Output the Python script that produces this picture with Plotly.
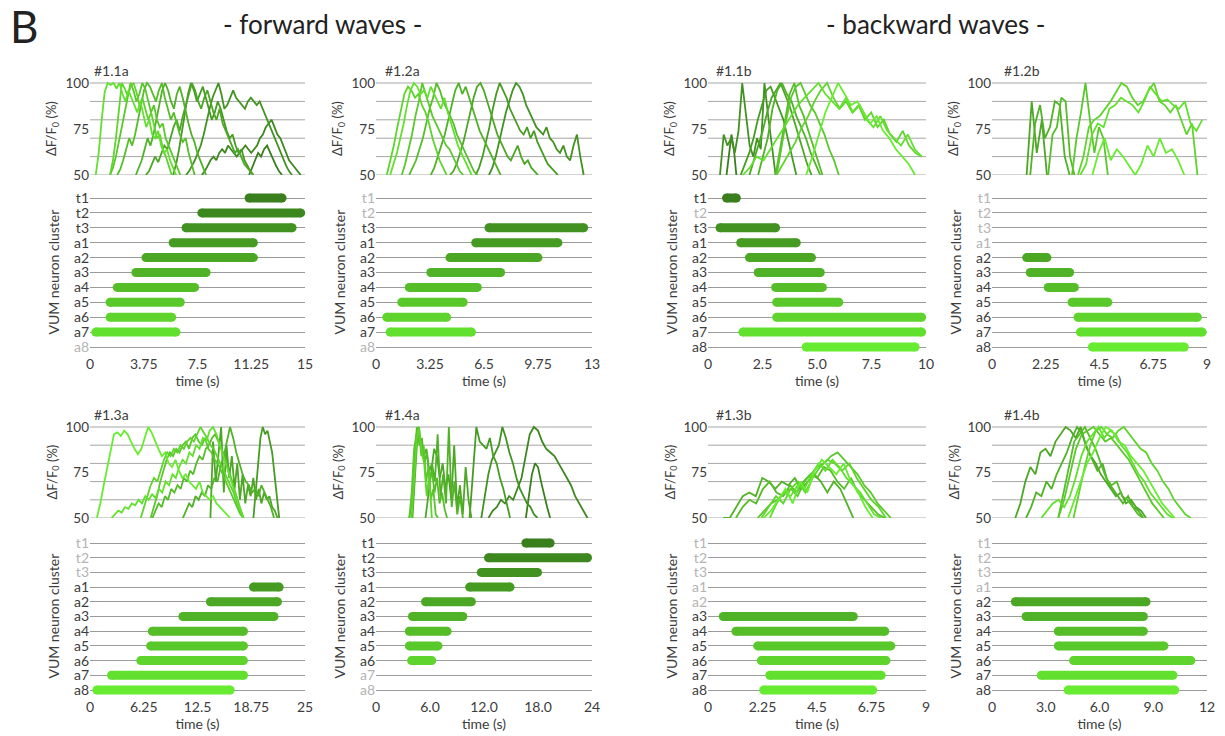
import numpy as np
import plotly.graph_objects as go

W, H = 1225, 736
FONT = "Lato"
TXT = "#3c3c3c"
GRID = "#a6a6a6"

ROWS = ["t1", "t2", "t3", "a1", "a2", "a3", "a4", "a5", "a6", "a7", "a8"]
ROW_COLORS = ["#3a7f1e", "#3d871f", "#419221", "#469c22", "#4ba724", "#50b226",
              "#55bd28", "#59c82a", "#5ed42c", "#62e02e", "#68ec32"]
TOP_GRID_VALUES = [50, 60, 70, 80, 90, 100]
TOP_TICKS = [50, 75, 100]

# ---------------- #1.1a ----------------
P11A_NAME = "#1.1a"
P11A_XMAX = 15
P11A_TICKS = [0, 3.75, 7.5, 11.25, 15]
P11A_TICKTEXT = ["0", "3.75", "7.5", "11.25", "15"]
P11A_START = [11.1, 7.8, 6.7, 5.8, 3.9, 3.2, 1.9, 1.4, 1.4, 0.4, None]
P11A_END = [13.4, 14.7, 14.1, 11.4, 11.4, 8.1, 7.3, 6.3, 5.7, 6.0, None]
P11A_TRACES = {
    "t1": [50, 54, 58, 62, 60, 64, 66, 62, 58, 55, 52, 50],
    "t2": [50, 52, 55, 58, 60, 58, 62, 64, 62, 66, 64, 62, 60, 62, 64, 66, 64, 62, 64, 66, 70, 72, 76, 78, 80, 76, 72, 70, 66, 62, 58, 56, 54, 52, 50],
    "t3": [50, 52, 55, 58, 62, 66, 72, 80, 86, 92, 96, 100, 94, 86, 88, 92, 96, 92, 90, 88, 86, 90, 92, 90, 88, 90, 86, 82, 78, 74, 70, 66, 62, 58, 55, 52, 50],
    "a1": [50, 56, 64, 74, 84, 94, 100, 96, 90, 94, 98, 92, 86, 80, 84, 90, 86, 80, 74, 70, 72, 66, 62, 64, 58, 55, 52, 50],
    "a2": [50, 52, 56, 60, 57, 62, 66, 64, 70, 76, 80, 74, 82, 88, 94, 100, 96, 90, 86, 92, 96, 90, 84, 80, 86, 78, 74, 70, 66, 62, 64, 60, 56, 54, 52, 50],
    "a3": [50, 54, 58, 64, 70, 66, 72, 80, 88, 96, 100, 96, 90, 86, 94, 98, 92, 84, 78, 72, 68, 62, 58, 54, 50],
    "a4": [50, 53, 58, 64, 70, 66, 72, 80, 88, 96, 100, 98, 94, 90, 96, 100, 92, 86, 80, 84, 78, 72, 68, 70, 62, 56, 50],
    "a5": [50, 54, 60, 68, 74, 82, 92, 100, 96, 90, 94, 100, 97, 90, 84, 88, 80, 76, 78, 70, 66, 62, 58, 54, 50],
    "a6": [50, 58, 70, 86, 100, 97, 93, 98, 100, 95, 88, 92, 86, 80, 84, 76, 70, 72, 64, 60, 55, 50],
    "a7": [50, 62, 80, 95, 100, 99, 100, 97, 100, 94, 90, 96, 92, 88, 84, 90, 82, 76, 80, 72, 70, 74, 66, 62, 64, 58, 54, 50],
}

# ---------------- #1.2a ----------------
P12A_NAME = "#1.2a"
P12A_XMAX = 13
P12A_TICKS = [0, 3.25, 6.5, 9.75, 13]
P12A_TICKTEXT = ["0", "3.25", "6.5", "9.75", "13"]
P12A_START = [None, None, 6.8, 6.0, 4.45, 3.3, 2.0, 1.55, 0.65, 0.85, None]
P12A_END = [None, None, 12.5, 10.95, 9.75, 7.5, 6.1, 5.25, 4.25, 5.75, None]
P12A_TRACES = {
    "t3": [50, 54, 60, 68, 76, 84, 90, 96, 100, 98, 94, 88, 84, 80, 76, 74, 72, 76, 70, 68, 64, 62, 66, 60, 58, 66, 72, 60, 50],
    "a1": [50, 54, 60, 68, 76, 86, 94, 100, 96, 92, 86, 82, 78, 74, 72, 76, 70, 74, 68, 64, 60, 56, 54, 52, 50],
    "a2": [50, 52, 56, 62, 68, 76, 84, 92, 98, 100, 96, 90, 84, 78, 72, 68, 64, 60, 58, 62, 66, 60, 56, 58, 54, 52, 50],
    "a3": [50, 54, 60, 66, 72, 80, 88, 96, 100, 94, 98, 92, 86, 80, 74, 70, 66, 62, 58, 54, 50],
    "a4": [50, 54, 58, 64, 70, 78, 86, 92, 100, 96, 90, 86, 82, 78, 72, 68, 64, 60, 56, 52, 50],
    "a5": [50, 56, 64, 72, 82, 90, 100, 94, 88, 82, 78, 74, 70, 66, 64, 60, 56, 52, 50],
    "a6": [50, 58, 66, 76, 86, 94, 98, 96, 92, 94, 88, 84, 78, 70, 64, 58, 54, 50],
    "a7": [50, 56, 62, 70, 78, 88, 96, 100, 98, 94, 96, 92, 98, 94, 90, 86, 92, 84, 78, 72, 66, 62, 58, 54, 50],
}

# ---------------- #1.1b ----------------
P11B_NAME = "#1.1b"
P11B_XMAX = 10
P11B_TICKS = [0, 2.5, 5, 7.5, 10]
P11B_TICKTEXT = ["0", "2.5", "5.0", "7.5", "10"]
P11B_START = [0.85, None, 0.55, 1.5, 1.9, 2.3, 3.1, 3.15, 3.15, 1.6, 4.5]
P11B_END = [1.3, None, 3.1, 4.05, 4.75, 5.15, 5.25, 6.0, 9.8, 9.8, 9.5]
P11B_TRACES = {
    "t1": [50, 60, 72, 64, 50],
    "t3": [50, 72, 66, 70, 62, 74, 100, 84, 66, 60, 70, 64, 100, 82, 66, 50],
    "a1": [50, 56, 62, 70, 80, 88, 96, 98, 92, 86, 80, 70, 60, 50],
    "a2": [50, 58, 66, 74, 84, 92, 96, 100, 94, 88, 80, 72, 64, 56, 50],
    "a3": [50, 60, 70, 86, 96, 100, 94, 90, 82, 76, 70, 62, 56, 50],
    "a4": [50, 64, 80, 94, 100, 88, 82, 74, 66, 58, 50],
    "a5": [50, 66, 80, 92, 98, 100, 94, 88, 84, 78, 72, 64, 58, 50],
    "a6": [50, 56, 62, 68, 76, 82, 90, 96, 100, 92, 86, 90, 84, 88, 80, 84, 76, 80, 72, 68, 74, 66, 62, 60],
    "a7": [50, 54, 60, 58, 64, 70, 76, 82, 88, 92, 96, 100, 94, 90, 86, 92, 84, 88, 80, 76, 82, 74, 70, 66, 72, 64, 60],
    "a8": [50, 60, 72, 84, 92, 100, 94, 88, 90, 84, 78, 82, 74, 70, 64, 60, 56, 50],
}

# ---------------- #1.2b ----------------
P12B_NAME = "#1.2b"
P12B_XMAX = 9
P12B_TICKS = [0, 2.25, 4.5, 6.75, 9]
P12B_TICKTEXT = ["0", "2.25", "4.5", "6.75", "9"]
P12B_START = [None, None, None, None, 1.45, 1.6, 2.35, 3.35, 3.6, 3.7, 4.2]
P12B_END = [None, None, None, None, 2.3, 3.25, 3.45, 4.85, 8.6, 8.8, 8.05]
P12B_TRACES = {
    "a2": [50, 90, 62, 80, 50],
    "a3": [50, 78, 88, 70, 76, 90, 88, 60, 50],
    "a4": [50, 72, 76, 92, 90, 60, 50],
    "a5": [50, 70, 84, 100, 80, 62, 76, 70, 50],
    "a6": [50, 60, 76, 80, 82, 86, 90, 95, 100, 98, 92, 88, 90, 96, 100, 90, 88, 84, 88, 80, 72, 78, 50],
    "a7": [50, 56, 72, 78, 76, 86, 88, 92, 90, 88, 84, 90, 98, 94, 90, 91, 88, 86, 90, 78, 74, 80],
    "a8": [50, 62, 70, 58, 64, 60, 55, 50, 56, 66, 60, 70, 62, 64, 58, 50],
}

# ---------------- #1.3a ----------------
P13A_NAME = "#1.3a"
P13A_XMAX = 25
P13A_TICKS = [0, 6.25, 12.5, 18.75, 25]
P13A_TICKTEXT = ["0", "6.25", "12.5", "18.75", "25"]
P13A_START = [None, None, None, 19.0, 14.0, 10.8, 7.25, 7.05, 5.9, 2.5, 0.8]
P13A_END = [None, None, None, 22.0, 21.8, 21.4, 17.85, 17.85, 17.85, 17.85, 16.3]
P13A_TRACES = {
    "a1": [50, 64, 80, 94, 100, 96, 98, 92, 86, 74, 62, 50],
    "a2": [50, 92, 70, 86, 100, 64, 90, 72, 84, 66, 80, 60, 74, 58, 68, 62, 72, 60, 66, 58, 64, 60, 62, 56, 54, 50],
    "a3": [50, 54, 58, 56, 62, 60, 64, 62, 68, 66, 72, 70, 78, 84, 92, 100, 94, 86, 80, 74, 70, 68, 64, 66, 62, 68, 64, 60, 56, 50],
    "a4": [50, 54, 58, 56, 62, 60, 66, 64, 68, 66, 72, 70, 76, 74, 80, 84, 82, 88, 90, 94, 96, 92, 88, 84, 78, 72, 66, 60, 55, 50],
    "a5": [50, 56, 62, 70, 76, 82, 86, 84, 88, 86, 90, 92, 88, 94, 96, 92, 90, 94, 88, 86, 82, 80, 76, 72, 68, 64, 60, 56, 52, 50],
    "a6": [50, 56, 62, 68, 72, 70, 76, 82, 86, 84, 88, 86, 90, 88, 92, 94, 92, 96, 100, 97, 94, 90, 88, 84, 80, 76, 72, 68, 64, 58, 54, 50],
    "a7": [50, 52, 54, 53, 56, 55, 58, 57, 60, 58, 62, 60, 63, 61, 66, 64, 70, 68, 74, 72, 78, 82, 80, 86, 84, 90, 88, 94, 92, 98, 100, 96, 90, 84, 78, 72, 66, 60, 55, 50],
    "a8": [50, 58, 68, 78, 88, 96, 97, 95, 98, 96, 92, 88, 85, 88, 94, 100, 97, 92, 88, 84, 86, 80, 78, 82, 76, 72, 74, 70, 68, 66, 70, 64, 62, 60, 62, 58, 56, 54, 52, 50],
}

# ---------------- #1.4a ----------------
P14A_NAME = "#1.4a"
P14A_XMAX = 24
P14A_TICKS = [0, 6, 12, 18, 24]
P14A_TICKTEXT = ["0", "6.0", "12.0", "18.0", "24"]
P14A_START = [16.65, 12.5, 11.7, 10.4, 5.5, 4.05, 3.7, 3.7, 3.95, None, None]
P14A_END = [19.35, 23.5, 17.95, 14.9, 10.6, 9.65, 7.9, 6.9, 6.2, None, None]
P14A_TRACES = {
    "t1": [50, 62, 74, 80, 78, 70, 62, 56, 50],
    "t2": [50, 54, 56, 60, 58, 62, 60, 66, 72, 84, 96, 100, 98, 92, 88, 86, 84, 80, 76, 72, 68, 62, 58, 54, 50],
    "t3": [50, 62, 74, 82, 86, 90, 100, 94, 86, 80, 72, 66, 62, 58, 56, 52, 50],
    "a1": [50, 76, 100, 92, 90, 88, 94, 84, 80, 72, 66, 58, 50],
    "a2": [50, 62, 76, 88, 84, 72, 80, 66, 74, 60, 90, 56, 68, 52, 78, 60, 50],
    "a3": [50, 76, 100, 92, 84, 88, 76, 80, 70, 96, 62, 74, 58, 100, 56, 70, 52, 62, 50],
    "a4": [50, 58, 82, 100, 90, 94, 80, 86, 70, 76, 64, 72, 58, 64, 55, 50],
    "a5": [50, 64, 88, 96, 100, 84, 90, 70, 78, 60, 66, 52, 50],
    "a6": [50, 70, 92, 100, 86, 80, 62, 74, 50],
}

# ---------------- #1.3b ----------------
P13B_NAME = "#1.3b"
P13B_XMAX = 9
P13B_TICKS = [0, 2.25, 4.5, 6.75, 9]
P13B_TICKTEXT = ["0", "2.25", "4.5", "6.75", "9"]
P13B_START = [None, None, None, None, None, 0.63, 1.15, 2.05, 2.2, 2.55, 2.3]
P13B_END = [None, None, None, None, None, 6.0, 7.3, 7.55, 7.35, 7.15, 6.8]
P13B_TRACES = {
    "a3": [50, 50, 56, 62, 64, 62, 72, 70, 66, 70, 68, 72, 66, 70, 74, 70, 64, 70, 66, 58, 50],
    "a4": [50, 56, 60, 58, 66, 70, 64, 62, 68, 64, 70, 74, 72, 78, 76, 70, 66, 72, 64, 60, 56, 52, 50],
    "a5": [50, 54, 58, 60, 64, 66, 62, 70, 74, 78, 80, 84, 86, 82, 78, 74, 68, 64, 58, 54, 50],
    "a6": [50, 56, 62, 58, 66, 70, 64, 72, 78, 82, 80, 76, 80, 72, 66, 60, 56, 50],
    "a7": [50, 58, 64, 62, 68, 66, 74, 80, 76, 82, 78, 72, 68, 64, 58, 52, 50],
    "a8": [50, 54, 60, 66, 58, 70, 64, 76, 82, 78, 74, 80, 70, 64, 56, 50],
}

# ---------------- #1.4b ----------------
P14B_NAME = "#1.4b"
P14B_XMAX = 12
P14B_TICKS = [0, 3, 6, 9, 12]
P14B_TICKTEXT = ["0", "3.0", "6.0", "9.0", "12"]
P14B_START = [None, None, None, None, 1.3, 1.9, 3.7, 3.7, 4.55, 2.75, 4.25]
P14B_END = [None, None, None, None, 8.6, 8.45, 8.45, 9.6, 11.1, 10.1, 10.2]
P14B_TRACES = {
    "a2": [50, 58, 70, 78, 74, 86, 88, 84, 92, 96, 100, 98, 94, 100, 90, 84, 80, 74, 70, 66, 62, 64, 58, 60, 56, 54, 50],
    "a3": [50, 56, 64, 62, 70, 66, 74, 80, 86, 94, 100, 96, 88, 82, 76, 80, 70, 66, 62, 58, 62, 56, 54, 50],
    "a4": [50, 64, 80, 92, 96, 100, 94, 88, 80, 72, 68, 70, 62, 60, 56, 52, 50],
    "a5": [50, 60, 74, 88, 96, 98, 100, 96, 92, 94, 90, 86, 82, 76, 70, 64, 58, 54, 50],
    "a6": [50, 64, 78, 90, 98, 100, 96, 94, 98, 100, 96, 92, 88, 86, 80, 76, 70, 66, 60, 56, 52, 50],
    "a7": [50, 54, 58, 60, 56, 62, 72, 84, 92, 96, 100, 94, 98, 96, 90, 86, 80, 74, 70, 64, 60, 56, 52, 50],
    "a8": [50, 60, 70, 80, 86, 94, 100, 98, 92, 90, 84, 80, 76, 70, 64, 58, 54, 50],
}

PANELS = [
    (P11A_NAME, P11A_XMAX, P11A_TICKS, P11A_TICKTEXT, P11A_START, P11A_END, P11A_TRACES),
    (P12A_NAME, P12A_XMAX, P12A_TICKS, P12A_TICKTEXT, P12A_START, P12A_END, P12A_TRACES),
    (P11B_NAME, P11B_XMAX, P11B_TICKS, P11B_TICKTEXT, P11B_START, P11B_END, P11B_TRACES),
    (P12B_NAME, P12B_XMAX, P12B_TICKS, P12B_TICKTEXT, P12B_START, P12B_END, P12B_TRACES),
    (P13A_NAME, P13A_XMAX, P13A_TICKS, P13A_TICKTEXT, P13A_START, P13A_END, P13A_TRACES),
    (P14A_NAME, P14A_XMAX, P14A_TICKS, P14A_TICKTEXT, P14A_START, P14A_END, P14A_TRACES),
    (P13B_NAME, P13B_XMAX, P13B_TICKS, P13B_TICKTEXT, P13B_START, P13B_END, P13B_TRACES),
    (P14B_NAME, P14B_XMAX, P14B_TICKS, P14B_TICKTEXT, P14B_START, P14B_END, P14B_TRACES),
]

# ---------------- layout geometry (page pixels) ----------------
COL_X = [(90, 305), (376, 592), (708, 926), (992, 1207)]
TOP_Y = [(83, 175), (427, 518)]        # y pixel of 100 and 50
GANTT_Y = [(198, 347), (543, 690)]     # y pixel of first and last row centers
TITLE_Y = [70, 414]
TITLE_DX = [2, 7, 6, 10]


def fx(px):
    return px / W


def fy(py):
    return 1 - py / H


def px_x(a, b):
    return [fx(a), fx(b)]


def px_y(top, bottom):
    return [fy(bottom), fy(top)]


def ref(letter, n):
    return letter if n == 1 else f"{letter}{n}"


fig = go.Figure()
layout = {}
shapes = []
annotations = []

for k, (name, xmax, ticks, ticktext, starts, ends, traces) in enumerate(PANELS):
    r, c = divmod(k, 4)
    x0, x1 = COL_X[c]
    it, ig = 2 * k + 1, 2 * k + 2
    xt, yt = ref("x", it), ref("y", it)
    xg, yg = ref("x", ig), ref("y", ig)
    kxt, kyt = ref("xaxis", it), ref("yaxis", it)
    kxg, kyg = ref("xaxis", ig), ref("yaxis", ig)

    # ----- top: fluorescence traces -----
    t100, t50 = TOP_Y[r]
    ppu = (t50 - t100) / 50.0
    layout[kxt] = dict(domain=px_x(x0, x1), range=[0, xmax], anchor=yt,
                       showticklabels=False, showgrid=False, zeroline=False,
                       showline=False, ticks="", automargin=False)
    layout[kyt] = dict(domain=px_y(t100 - 1.5 * ppu, t50), range=[50, 101.5],
                       anchor=xt, tickvals=TOP_TICKS, showgrid=False,
                       zeroline=False, showline=False, ticks="", automargin=False,
                       tickfont=dict(size=13.5, color=TXT, family=FONT))
    for gv in TOP_GRID_VALUES:
        shapes.append(dict(type="line", xref=f"{xt} domain", yref=yt, x0=0, x1=1,
                           y0=gv, y1=gv, line=dict(color=GRID, width=1), layer="below"))
    for i, row in enumerate(ROWS):
        if row in traces and starts[i] is not None:
            vals = traces[row]
            xs = np.linspace(starts[i], ends[i], len(vals))
            fig.add_trace(go.Scatter(x=xs, y=vals, xaxis=xt, yaxis=yt, mode="lines",
                                     line=dict(color=ROW_COLORS[i], width=1.8),
                                     showlegend=False, hoverinfo="skip"))

    # ----- bottom: activity bars -----
    g0, g1 = GANTT_Y[r]
    sp = (g1 - g0) / (len(ROWS) - 1)
    labels = []
    for i, row in enumerate(ROWS):
        col = TXT if starts[i] is not None else "#b4b4b4"
        labels.append(f'<span style="color:{col}">{row}</span>')
    layout[kxg] = dict(domain=px_x(x0, x1), range=[0, xmax], anchor=yg,
                       tickvals=ticks, ticktext=ticktext, showgrid=False,
                       zeroline=False, showline=False, ticks="", automargin=False,
                       tickfont=dict(size=14, color=TXT, family=FONT),
                       title=dict(text="time (s)", standoff=2,
                                  font=dict(size=14, color=TXT, family=FONT)))
    layout[kyg] = dict(domain=px_y(g0 - sp / 2, g1 + sp / 2),
                       range=[len(ROWS) - 0.5, -0.5], anchor=xg,
                       tickvals=list(range(len(ROWS))), ticktext=labels,
                       showgrid=True, gridcolor="#9a9a9a", gridwidth=1,
                       zeroline=False, showline=False, ticks="", automargin=False,
                       tickfont=dict(size=14, color=TXT, family=FONT))
    for i, row in enumerate(ROWS):
        if starts[i] is None:
            continue
        fig.add_trace(go.Scatter(x=[starts[i], ends[i]], y=[i, i], xaxis=xg, yaxis=yg,
                                 mode="lines+markers",
                                 line=dict(color=ROW_COLORS[i], width=9),
                                 marker=dict(color=ROW_COLORS[i], size=9, line=dict(width=0)),
                                 cliponaxis=False, showlegend=False, hoverinfo="skip"))

    # ----- texts -----
    annotations.append(dict(text=name, x=fx(x0 + TITLE_DX[c]), y=fy(TITLE_Y[r]),
                            xref="paper", yref="paper", xanchor="left", yanchor="middle",
                            showarrow=False, font=dict(size=14, color=TXT, family=FONT)))
    annotations.append(dict(text="ΔF/F<sub>0</sub> (%)", x=fx(x0 - 38),
                            y=fy((t100 + t50) / 2), xref="paper", yref="paper",
                            textangle=-90, showarrow=False, xanchor="center", yanchor="middle",
                            font=dict(size=13, color=TXT, family=FONT)))
    annotations.append(dict(text="VUM neuron cluster", x=fx(x0 - 37),
                            y=fy((g0 + g1) / 2), xref="paper", yref="paper",
                            textangle=-90, showarrow=False, xanchor="center", yanchor="middle",
                            font=dict(size=14, color=TXT, family=FONT)))

annotations.append(dict(text="B", x=fx(8), y=fy(26), xref="paper", yref="paper",
                        xanchor="left", yanchor="middle", showarrow=False,
                        font=dict(size=44, color="#222222", family=FONT)))
annotations.append(dict(text="- forward waves -", x=fx(322), y=fy(24), xref="paper",
                        yref="paper", xanchor="center", yanchor="middle", showarrow=False,
                        font=dict(size=26, color="#222222", family=FONT)))
annotations.append(dict(text="- backward waves -", x=fx(936), y=fy(24), xref="paper",
                        yref="paper", xanchor="center", yanchor="middle", showarrow=False,
                        font=dict(size=26, color="#222222", family=FONT)))

fig.update_layout(width=W, height=H,
                  margin=dict(l=0, r=0, t=0, b=0, pad=0, autoexpand=False),
                  paper_bgcolor="white", plot_bgcolor="white",
                  font=dict(family=FONT, color=TXT), showlegend=False,
                  shapes=shapes, annotations=annotations, **layout)

PAGE_FIX = ("document.documentElement.style.overflow='hidden';"
            "document.body.style.margin='0';document.body.style.overflow='hidden';")
fig.write_html("out.html", post_script=PAGE_FIX, config={"displayModeBar": False})
